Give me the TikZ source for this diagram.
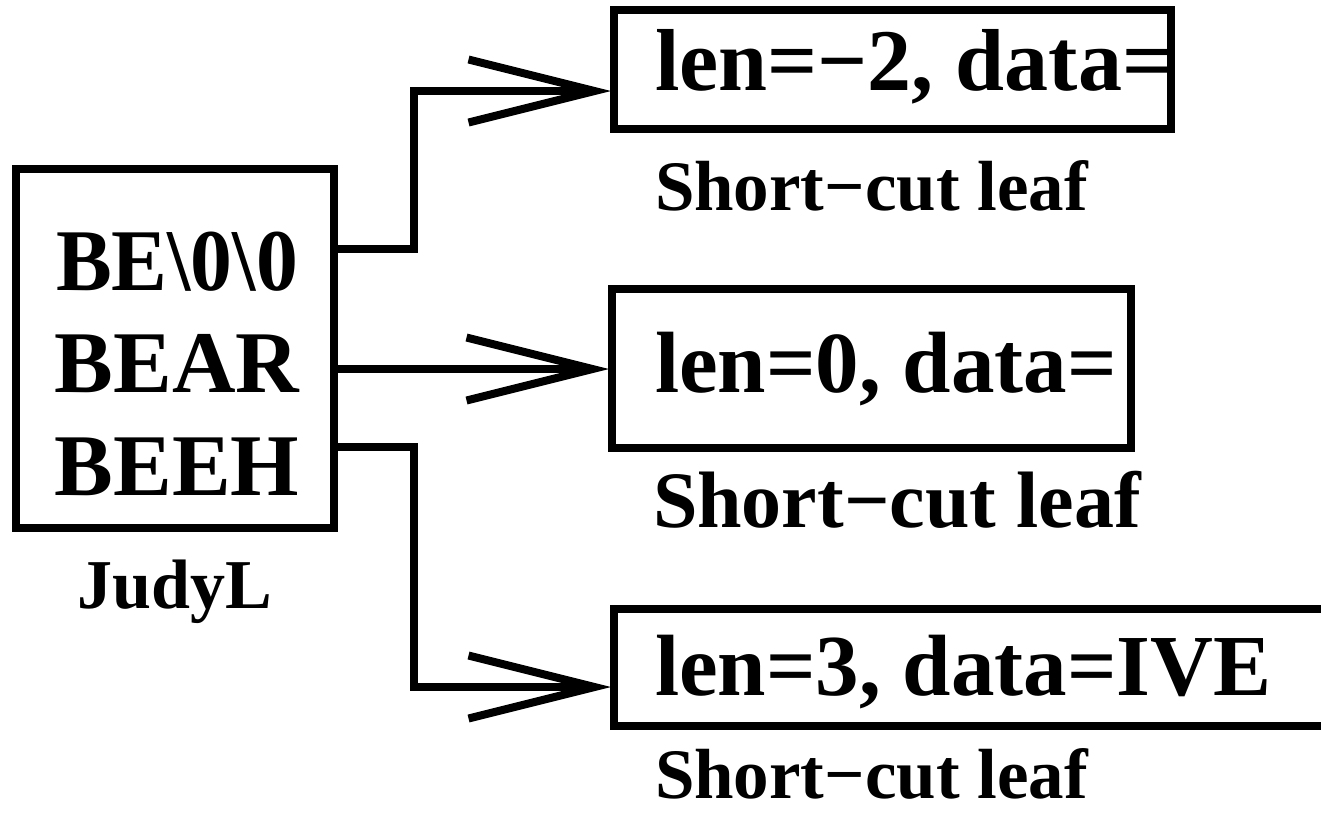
\documentclass[tikz,border=0pt]{standalone}
\usepackage{fontspec}
\setmainfont{Liberation Serif}
\usetikzlibrary{arrows.meta}

\tikzset{
  box/.style={draw, rectangle, line width=8pt, inner sep=0pt, outer sep=0pt},
  link/.style={line width=8pt, shorten >=3pt,
    -{Straight Barb[length=126pt,width=63pt]}},
  txtsize/.style={inner sep=0pt, outer sep=0pt,
    font=\bfseries\fontsize{#1}{#1}\selectfont},
}

\begin{document}
\begin{tikzpicture}[x=1pt,y=1pt]
\useasboundingbox (0,0) rectangle (1321,-812);

% JudyL node and the three short-cut leaves
\node[box, minimum width=318pt, minimum height=359pt] (L) at (175,-348.5) {};
\node[box, minimum width=557pt, minimum height=119pt] (T) at (892.5,-69.5) {};
\node[box, minimum width=519pt, minimum height=159pt] (M) at (871.5,-368.5) {};
\node[box, minimum width=746pt, minimum height=117pt] (B) at (987,-667.5) {};

% keys stored in the JudyL node
\node[txtsize=88, anchor=base] (k1) at (177,-290)
  {\scalebox{0.95}[1]{BE\textbackslash0\textbackslash0}};
\node[txtsize=88, anchor=base] (k2) at (177,-392) {BEAR};
\node[txtsize=88, anchor=base] (k3) at (177,-495) {BEEH};
\node[txtsize=70, anchor=base] (jl) at (175,-608) {JudyL};

% leaf contents and captions
\node[txtsize=88, anchor=base west] (d1) at (655,-90) {len=−2, data=};
\node[txtsize=71, anchor=base west] (c1) at (655,-210) {Short−cut leaf};
\node[txtsize=87, anchor=base west] (d2) at (655,-392) {len=0, data=};
\node[txtsize=80, anchor=base west] (c2) at (653,-527) {Short−cut leaf};
\node[txtsize=87, anchor=base west] (d3) at (655,-695) {len=3, data=IVE};
\node[txtsize=71, anchor=base west] (c3) at (655,-798) {Short−cut leaf};

% connectors
\coordinate (t1) at (414,-91);
\coordinate (t3) at (414,-687);
\coordinate (s2) at ([yshift=-20.5pt]L.east);
\draw[link] ([yshift=99.5pt]L.east) -| (t1) -- (t1 -| T.west);
\draw[link] (s2) -- (s2 -| M.west);
\draw[link] ([yshift=-98.5pt]L.east) -| (t3) -- (t3 -| B.west);
\end{tikzpicture}
\end{document}
